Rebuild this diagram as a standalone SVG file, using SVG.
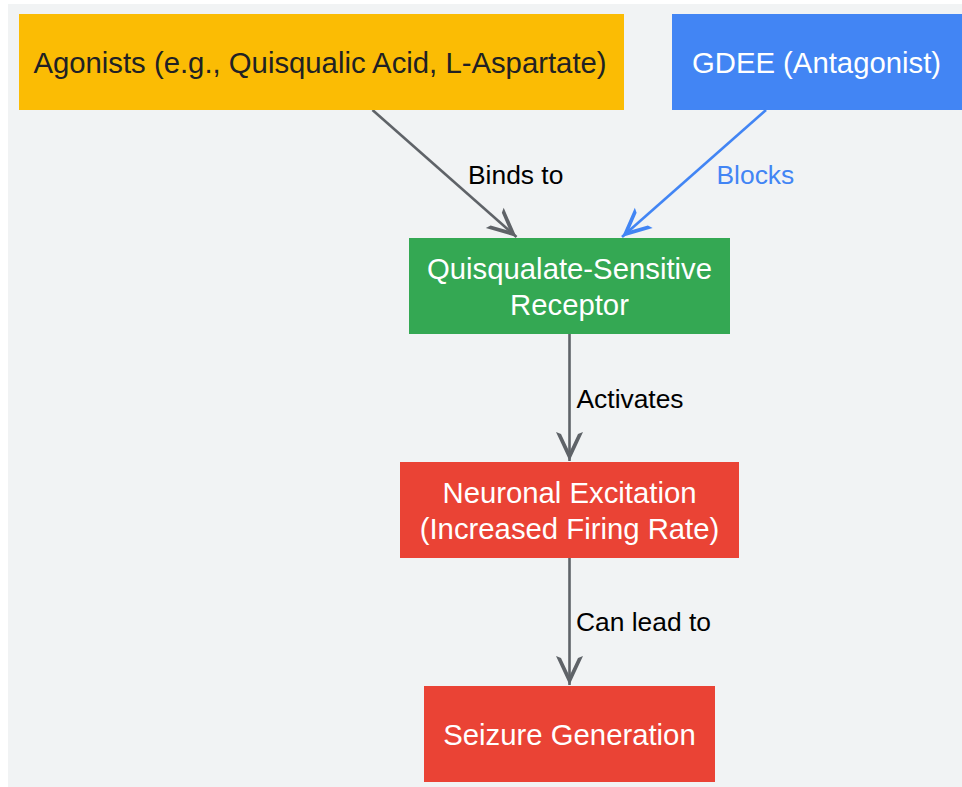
<svg xmlns="http://www.w3.org/2000/svg" width="962" height="787" viewBox="0 0 962 787">
<style>
.node-text{font-family:"Liberation Sans",Arial,sans-serif;font-size:29.3px;text-anchor:middle;fill:#ffffff}
.dark{fill:#202124}
.edge-label{font-family:"Liberation Sans",Arial,sans-serif;font-size:26.4px;fill:#000000}
.edge{fill:none;stroke:#5f6368;stroke-width:2.6}
.edge.blue{stroke:#4285f4}
</style>
<defs>
<marker id="arrow-gray" markerUnits="userSpaceOnUse" markerWidth="40" markerHeight="40" refX="0" refY="0" orient="auto" overflow="visible">
<path d="M0,0 L-29,-13.5 L-27,-8.5 L-9,0 L-27,8.5 L-29,13.5 Z" fill="#5f6368"/>
</marker>
<marker id="arrow-blue" markerUnits="userSpaceOnUse" markerWidth="40" markerHeight="40" refX="0" refY="0" orient="auto" overflow="visible">
<path d="M0,0 L-29,-13.5 L-27,-8.5 L-9,0 L-27,8.5 L-29,13.5 Z" fill="#4285f4"/>
</marker>
</defs>
<rect x="0" y="0" width="962" height="787" fill="#ffffff"/>
<rect x="8" y="4" width="954" height="783" fill="#f1f3f4"/>

<g id="connectors">
<line class="edge" x1="372.5" y1="110" x2="516.5" y2="237" marker-end="url(#arrow-gray)"/>
<line class="edge blue" x1="766" y1="110" x2="622" y2="237" marker-end="url(#arrow-blue)"/>
<line class="edge" x1="569.5" y1="334" x2="569.5" y2="461" marker-end="url(#arrow-gray)"/>
<line class="edge" x1="569.5" y1="558" x2="569.5" y2="685" marker-end="url(#arrow-gray)"/>
<text class="edge-label" x="468" y="183.5">Binds to</text>
<text class="edge-label" x="716.5" y="183.5" style="fill:#4285f4">Blocks</text>
<text class="edge-label" x="576.5" y="407.5">Activates</text>
<text class="edge-label" x="576" y="631">Can lead to</text>
</g>

<g id="agonists">
<rect x="19" y="14" width="605" height="96" fill="#fbbc04"/>
<text class="node-text dark" x="320" y="73">Agonists (e.g., Quisqualic Acid, L-Aspartate)</text>
</g>

<g id="gdee">
<rect x="672" y="14" width="290" height="96" fill="#4285f4"/>
<text class="node-text" x="816.5" y="73">GDEE (Antagonist)</text>
</g>

<g id="receptor">
<rect x="409" y="238" width="321" height="96" fill="#34a853"/>
<text class="node-text" x="569.5" y="279">Quisqualate-Sensitive</text>
<text class="node-text" x="569.5" y="315">Receptor</text>
</g>

<g id="excitation">
<rect x="400" y="462" width="339" height="96" fill="#ea4335"/>
<text class="node-text" x="569.5" y="503">Neuronal Excitation</text>
<text class="node-text" x="569.5" y="539">(Increased Firing Rate)</text>
</g>

<g id="seizure">
<rect x="424" y="686" width="291" height="96" fill="#ea4335"/>
<text class="node-text" x="569.5" y="744.5">Seizure Generation</text>
</g>
</svg>
